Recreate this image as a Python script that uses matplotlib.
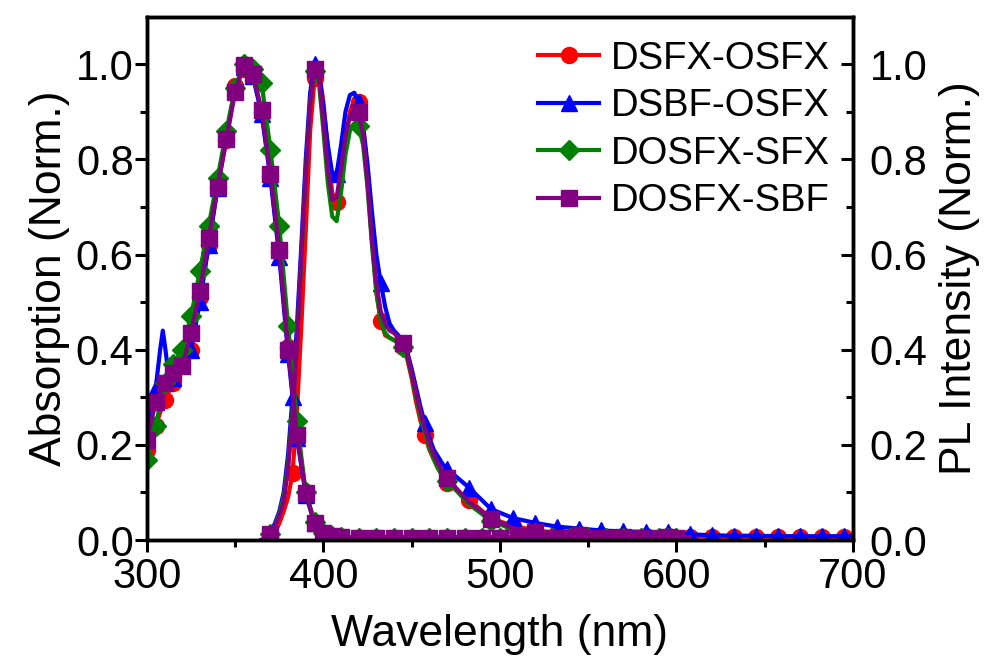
import matplotlib
matplotlib.use('agg')
import matplotlib.pyplot as plt
import numpy as np

plt.rcParams['font.family'] = ['Liberation Sans', 'DejaVu Sans']

names = ["DSFX-OSFX", "DSBF-OSFX", "DOSFX-SFX", "DOSFX-SBF"]
colors = ["red", "blue", "green", "purple"]
markers = ["o", "^", "D", "s"]

# absorption
x_abs = [300, 305, 310, 315, 320, 325, 330, 335, 340, 345, 350, 355, 360,
         365, 370, 375, 380, 385, 390, 395, 400, 405, 410, 420, 430, 440,
         450, 460, 470, 480, 490, 500, 510, 520, 530, 540, 550, 560, 570,
         580, 590, 600]
x_abs_blue = [300, 302.5, 305, 307.5, 309, 310.5, 312.5, 315, 320, 325, 330,
              335, 340, 345, 350, 355, 360, 365, 370, 375, 380, 385, 390, 395,
              400, 405, 410, 420, 430, 440, 450, 460, 470, 480, 490, 500, 510,
              520, 530, 540, 550, 560, 570, 580, 590, 600]

abs_red = [0.19, 0.24, 0.295, 0.33, 0.37, 0.40, 0.51, 0.62, 0.74, 0.84, 0.955,
           0.99, 0.98, 0.90, 0.765, 0.605, 0.405, 0.225, 0.10, 0.036, 0.015,
           0.008, 0.006, 0.005, 0.005, 0.005, 0.005, 0.005, 0.005, 0.005,
           0.005, 0.005, 0.005, 0.005, 0.005, 0.005, 0.005, 0.005, 0.005,
           0.005, 0.005, 0.005]
abs_blue = [0.27, 0.30, 0.32, 0.40, 0.44, 0.40, 0.34, 0.34, 0.37, 0.40, 0.50,
            0.62, 0.74, 0.85, 0.95, 0.995, 0.975, 0.895, 0.76, 0.595, 0.39,
            0.215, 0.095, 0.035, 0.015, 0.008, 0.006, 0.006, 0.006, 0.006,
            0.006, 0.006, 0.006, 0.006, 0.006, 0.006, 0.006, 0.006, 0.006,
            0.006, 0.006, 0.006, 0.006, 0.006, 0.006, 0.006]
abs_green = [0.168, 0.24, 0.33, 0.37, 0.40, 0.47, 0.565, 0.66, 0.76, 0.86,
             0.95, 1.0, 0.99, 0.96, 0.82, 0.66, 0.45, 0.25, 0.10, 0.037, 0.015,
             0.008, 0.006, 0.005, 0.005, 0.005, 0.005, 0.005, 0.005, 0.005,
             0.005, 0.005, 0.005, 0.005, 0.005, 0.005, 0.005, 0.005, 0.005,
             0.005, 0.005, 0.005]
abs_purple = [0.21, 0.29, 0.33, 0.35, 0.365, 0.435, 0.523, 0.634, 0.742,
              0.842, 0.941, 0.998, 0.98, 0.903, 0.769, 0.61, 0.40, 0.22, 0.099,
              0.036, 0.015, 0.008, 0.006, 0.005, 0.005, 0.005, 0.005, 0.005,
              0.005, 0.005, 0.005, 0.005, 0.005, 0.005, 0.005, 0.005, 0.005,
              0.005, 0.005, 0.005, 0.005, 0.005]

# photoluminescence
x_pl = [365, 367.5, 370, 372.5, 375, 377.5, 380, 382.5, 385, 387.5, 390,
        392.5, 395, 397.5, 400, 402.5, 405, 407.5, 410, 412.5, 415, 417.5,
        420, 422.5, 425, 427.5, 430, 432.5, 435, 437.5, 440, 442.5, 445,
        447.5, 450, 452.5, 455, 457.5, 460, 462.5, 465, 467.5, 470, 482.5,
        495, 507.5, 520, 532.5, 545, 557.5, 570, 582.5, 595, 607.5]
x_pl_long = x_pl + [620, 632.5, 645, 657.5, 670, 682.5, 695, 700]

pl_red = [0.0, 0.0, 0.005, 0.015, 0.035, 0.06, 0.09, 0.14, 0.27, 0.45, 0.65,
          0.86, 0.97, 0.985, 0.92, 0.82, 0.73, 0.71, 0.76, 0.84, 0.90, 0.925,
          0.92, 0.87, 0.77, 0.64, 0.52, 0.46, 0.43, 0.425, 0.42, 0.415, 0.405,
          0.38, 0.34, 0.29, 0.25, 0.22, 0.19, 0.17, 0.15, 0.135, 0.12,
          0.085, 0.045, 0.03, 0.02, 0.015, 0.012, 0.01, 0.009, 0.008, 0.008,
          0.007, 0.007, 0.007, 0.007, 0.007, 0.007, 0.007, 0.007, 0.007]
pl_blue = [0.0, 0.005, 0.015, 0.035, 0.06, 0.10, 0.18, 0.30, 0.45, 0.62, 0.80,
           0.94, 1.0, 0.98, 0.91, 0.83, 0.77, 0.77, 0.83, 0.90, 0.935, 0.94,
           0.92, 0.87, 0.79, 0.69, 0.60, 0.54, 0.49, 0.455, 0.44, 0.43, 0.415,
           0.395, 0.36, 0.32, 0.28, 0.245, 0.215, 0.19, 0.175, 0.16, 0.15,
           0.11, 0.065, 0.046, 0.036, 0.028, 0.024, 0.02, 0.018, 0.017, 0.016,
           0.012, 0.01, 0.009, 0.009, 0.008, 0.008, 0.008, 0.008, 0.008]
pl_green = [0.0, 0.004, 0.013, 0.03, 0.055, 0.09, 0.16, 0.27, 0.42, 0.59, 0.77,
            0.92, 0.985, 0.96, 0.86, 0.75, 0.68, 0.67, 0.73, 0.81, 0.86,
            0.875, 0.87, 0.83, 0.74, 0.62, 0.52, 0.46, 0.435, 0.425, 0.42,
            0.415, 0.405, 0.385, 0.345, 0.30, 0.26, 0.225, 0.195, 0.17, 0.15,
            0.135, 0.125, 0.075, 0.04, 0.022, 0.015, 0.01, 0.008, 0.006, 0.005,
            0.005, 0.005, 0.005]
pl_purple = [0.0, 0.003, 0.012, 0.03, 0.05, 0.08, 0.15, 0.26, 0.41, 0.60, 0.77,
             0.92, 0.99, 0.97, 0.88, 0.78, 0.715, 0.72, 0.78, 0.85, 0.89,
             0.905, 0.90, 0.85, 0.75, 0.63, 0.54, 0.48, 0.455, 0.44, 0.435,
             0.425, 0.414, 0.39, 0.35, 0.31, 0.27, 0.235, 0.205, 0.18, 0.16,
             0.145, 0.13, 0.08, 0.045, 0.025, 0.017, 0.012, 0.01, 0.008, 0.007,
             0.006, 0.006, 0.005]

abs_data = [(x_abs, abs_red), (x_abs_blue, abs_blue),
            (x_abs, abs_green), (x_abs, abs_purple)]
pl_data = [(x_pl_long, pl_red), (x_pl_long, pl_blue),
           (x_pl, pl_green), (x_pl, pl_purple)]
pl_step = [12.5, 12.5, 25, 25]

fig = plt.figure(figsize=(9.86, 6.63), dpi=100)
ax = fig.add_axes([0.149, 0.1855, 0.716, 0.7895])

for i in range(4):
    msize = 10 if markers[i] == "D" else 11.5
    xa, ya = abs_data[i]
    xa = np.array(xa)
    mk = list((xa % 5) == 0)
    ax.plot(xa, ya, color=colors[i], lw=3, marker=markers[i], ms=msize,
            markevery=mk, label=names[i])
    xp, yp = pl_data[i]
    xp = np.array(xp)
    mk = list(((xp - 370) % pl_step[i]) == 0)
    ax.plot(xp, yp, color=colors[i], lw=3, marker=markers[i], ms=msize,
            markevery=mk)

ax.set_xlim(300, 700)
ax.set_ylim(0, 1.1)
ax.set_xticks([300, 400, 500, 600, 700])
ax.set_xticks([350, 450, 550, 650], minor=True)
ax.set_yticks([0, 0.2, 0.4, 0.6, 0.8, 1.0])
ax.set_yticks([0.1, 0.3, 0.5, 0.7, 0.9], minor=True)
ax.tick_params(which='major', direction='out', length=8.5, width=2.2,
               labelsize=30, pad=1)
ax.tick_params(axis='x', which='major', pad=4)
ax.tick_params(which='minor', direction='out', length=5, width=2.2)
ax.set_xlabel("Wavelength (nm)", fontsize=32, labelpad=12)
ax.set_ylabel("Absorption (Norm.)", fontsize=32, labelpad=4)
for s in ax.spines.values():
    s.set_linewidth(2.5)

ax2 = ax.twinx()
ax2.set_ylim(0, 1.1)
ax2.set_yticks([0, 0.2, 0.4, 0.6, 0.8, 1.0])
ax2.set_yticks([0.1, 0.3, 0.5, 0.7, 0.9], minor=True)
ax2.tick_params(which='major', direction='in', length=8.5, width=2.2,
                labelsize=30, pad=12)
ax2.tick_params(which='minor', direction='in', length=5, width=2.2)
ax2.set_ylabel("PL Intensity (Norm.)", fontsize=32, labelpad=8)
for s in ax2.spines.values():
    s.set_linewidth(2.5)

ax.legend(loc='upper right', frameon=False, fontsize=27.5, handlelength=1.6,
          handletextpad=0.3, labelspacing=0.3, borderpad=0.2,
          bbox_to_anchor=(1.005, 1.005))

fig.savefig('out.png', dpi=100)
